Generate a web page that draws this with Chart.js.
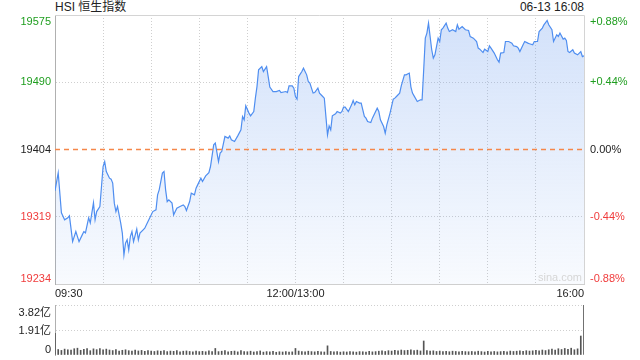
<!DOCTYPE html>
<html><head><meta charset="utf-8">
<script src="https://cdn.jsdelivr.net/npm/chart.js@4"></script>
<style>
html,body{margin:0;padding:0;background:#fff;width:640px;height:360px;overflow:hidden;}
#wrap{position:relative;width:640px;height:360px;}
.hdr{position:absolute;top:0;font-size:12px;line-height:15px;color:#222;font-family:"Liberation Sans",Arial,"Noto Sans CJK SC",sans-serif;white-space:nowrap;}
#title{left:55px;}
#date{right:56px;}
#c1{position:absolute;left:0;top:0;}
#c2{position:absolute;left:0;top:300px;}
</style>
</head><body>
<div id="wrap">
<div class="hdr" id="title"></div>
<div class="hdr" id="date"></div>
<canvas id="c1" width="640" height="300"></canvas>
<canvas id="c2" width="640" height="60"></canvas>
</div>
<script>
const titleText = 'HSI 恒生指数';
const dateText = '06-13 16:08';
const prevClose = 19404.4;
const pctLimit = 0.88;
const yTickLabels = ['19575','19490','19404','19319','19234'];
const pctTickLabels = ['+0.88%','+0.44%','0.00%','-0.44%','-0.88%'];
const xTickMinutes = [0,150,330];
const xTickLabels = ['09:30','12:00/13:00','16:00'];
const volTickLabels = ['3.82亿','1.91亿','0'];
const volMax = 3.82;

// minutes since open (lunch break removed: 150 = 12:00/13:00)
const minutes = [0,2,4,6,8,9,11,13,15,17,18,19,21,22,24,25,26,28,29,30,31,32,34,35,36,37,38,39,41,42,43,44,45,46,47,48,49,51,52,53,55,56,58,59,61,63,64,65,67,68,69,70,71,73,74,76,78,80,81,82,84,85,87,88,89,91,92,94,96,97,99,100,102,103,104,106,108,109,110,112,114,116,117,118,119,121,122,124,125,126,127,129,130,132,133,134,136,138,140,141,144,145,146,148,149,150,151,152,154,155,157,158,159,161,162,164,165,167,168,170,171,172,173,175,176,178,179,180,181,183,185,186,187,188,190,191,193,194,195,197,198,201,202,203,205,206,207,209,211,212,213,215,216,218,219,221,222,223,224,226,228,229,230,231,232,233,234,235,236,237,239,240,241,242,244,245,246,248,250,251,252,254,256,258,259,261,263,264,265,267,268,270,271,272,274,276,277,278,280,281,283,285,286,288,289,290,292,293,295,296,298,299,301,302,304,305,307,308,310,311,313,314,315,317,318,319,320,321,323,324,326,328,329,330];
const prices = [19352,19374.8,19324.0,19315.1,19317.6,19320.2,19287.5,19300.2,19287.5,19296.0,19300.2,19298.6,19317.6,19311.3,19336.7,19315.1,19325.6,19332.0,19357.4,19382.8,19389.1,19376.4,19368.0,19366.8,19361.7,19336.3,19325.6,19332.0,19310.9,19298.2,19270.6,19285.5,19289.7,19277.0,19293.9,19300.2,19287.5,19303.3,19289.7,19298.2,19302.4,19304.5,19312.9,19317.2,19325.6,19327.8,19346.8,19353.2,19374.4,19376.4,19353.2,19338.3,19340.5,19336.3,19321.4,19329.9,19332.0,19334.1,19332.0,19326.9,19338.3,19349.0,19346.8,19355.3,19359.5,19368.0,19363.7,19370.9,19375.1,19382.8,19410.3,19412.5,19389.1,19399.8,19401.8,19420.9,19418.8,19421.7,19416.7,19414.5,19421.7,19429.4,19446.3,19442.1,19459.8,19450.6,19447.1,19452.6,19469.6,19484.3,19505.6,19509.7,19503.4,19509.7,19497.0,19483.6,19478.0,19478.0,19479.3,19476.7,19478.0,19476.7,19485.2,19485.2,19482.3,19471.7,19468.3,19497.0,19503.4,19507.7,19499.2,19490.7,19488.7,19476.0,19476.7,19482.3,19476.0,19471.7,19469.6,19423.0,19434.4,19429.4,19447.1,19449.7,19452.6,19450.6,19452.6,19458.2,19458.2,19452.6,19461.1,19466.6,19461.1,19465.3,19463.3,19463.3,19446.3,19444.2,19439.9,19438.6,19444.2,19456.9,19452.6,19442.1,19433.6,19425.2,19435.7,19450.6,19468.3,19469.6,19471.7,19476.0,19485.2,19499.2,19499.2,19501.4,19484,19476,19472.5,19465.3,19467.5,19467.5,19505.6,19545.8,19552.2,19564.9,19547.8,19531.0,19520.4,19524.6,19545.8,19541.5,19556.4,19558.5,19564.9,19558.5,19554.2,19556.4,19554.2,19562.7,19557.2,19560.5,19556.4,19555.5,19547.8,19545.8,19541.5,19533.1,19531.8,19527.5,19531.8,19528.8,19536.0,19533.1,19526.8,19518.3,19515.3,19526.8,19527.5,19541.5,19541.5,19539.5,19536.0,19535.1,19533.1,19528.8,19537.3,19541.5,19539.5,19538.6,19537.3,19541.5,19541.5,19554.2,19558.5,19562.7,19568.2,19562.7,19556.4,19541.5,19550.0,19547.8,19552.2,19544.5,19545.8,19542.8,19528.8,19527.5,19531.0,19526.8,19524.6,19528.8,19522.4,19523.3];

// volume (亿) every 2 minutes from 0 to 330
const volMinuteStep = 2;
const volumes = [
1.66,0.42,0.35,0.45,0.40,0.38,0.48,0.52,0.36,0.44,
0.50,0.33,0.47,0.41,0.49,0.39,0.45,0.38,0.34,0.42,
0.30,0.36,0.40,0.33,0.29,0.37,0.31,0.35,0.28,0.33,
0.30,0.27,0.32,0.29,0.34,0.26,0.30,0.28,0.33,0.25,
0.29,0.31,0.27,0.24,0.30,0.26,0.28,0.25,0.31,0.27,
0.50,0.26,0.29,0.33,0.25,0.28,0.30,0.24,0.34,0.27,
0.25,0.29,0.23,0.27,0.31,0.22,0.26,0.24,0.28,0.21,
0.25,0.23,0.27,0.22,0.24,0.50,0.30,0.27,0.25,0.29,
0.26,0.24,0.28,0.25,0.23,0.70,0.27,0.24,0.26,0.22,
0.25,0.23,0.27,0.24,0.22,0.26,0.25,0.23,0.28,0.24,
0.26,0.29,0.31,0.27,0.33,0.30,0.35,0.32,0.38,0.34,
0.36,0.40,0.33,0.37,0.31,1.07,0.34,0.29,0.32,0.27,
0.30,0.26,0.28,0.25,0.29,0.27,0.24,0.28,0.26,0.25,
0.27,0.24,0.29,0.26,0.23,0.28,0.25,0.27,0.24,0.26,
0.28,0.25,0.30,0.27,0.29,0.31,0.28,0.33,0.30,0.32,
0.35,0.31,0.38,0.34,0.40,0.45,0.38,0.48,0.42,0.50,
0.44,0.52,0.40,0.47,1.45,3.82];

document.getElementById('title').textContent = titleText;
document.getElementById('date').textContent = dateText;

const FONT = '"Liberation Sans", Arial, "Noto Sans CJK SC", sans-serif';
const GREEN = '#1f9e1f', RED = '#f03c3c', DARK = '#222';
const yMax = prevClose * (1 + pctLimit / 100);
const yMin = prevClose * (1 - pctLimit / 100);
const yTickValues = [yMax, prevClose * (1 + pctLimit / 200), prevClose, prevClose * (1 - pctLimit / 200), yMin];
const xMax = xTickMinutes[xTickMinutes.length - 1];
const gridMinutes = [];
for (let m = 0; m <= xMax; m += 30) gridMinutes.push(m);

const mainLabels = {
  id: 'mainLabels',
  afterDraw(chart) {
    const {ctx, chartArea: a, scales: {y}} = chart;
    ctx.save();
    ctx.font = '11px ' + FONT;
    yTickValues.forEach((v, i) => {
      const py = y.getPixelForValue(v);
      ctx.textBaseline = i === 0 ? 'top' : (i === yTickValues.length - 1 ? 'bottom' : 'middle');
      const dy = i === 0 ? 1 : 0;
      ctx.fillStyle = i < 2 ? GREEN : (i === 2 ? DARK : RED);
      ctx.textAlign = 'right';
      ctx.fillText(yTickLabels[i], a.left - 4, py + dy);
      ctx.textAlign = 'left';
      ctx.fillText(pctTickLabels[i], a.right + 6, py + dy);
    });
    ctx.fillStyle = '#d6d6d6';
    ctx.textAlign = 'right';
    ctx.textBaseline = 'bottom';
    ctx.fillText('sina.com', a.right - 2, a.bottom - 1);
    ctx.restore();
  },
  beforeDatasetsDraw(chart) {
    const {ctx, chartArea: a} = chart;
    ctx.save();
    ctx.strokeStyle = '#d4d4d4';
    ctx.lineWidth = 1;
    ctx.beginPath();
    ctx.moveTo(a.left, a.top + 0.5); ctx.lineTo(a.right + 0.5, a.top + 0.5);
    ctx.lineTo(a.right + 0.5, a.bottom);
    ctx.stroke();
    ctx.restore();
  }
};

new Chart(document.getElementById('c1'), {
  type: 'line',
  data: {
    datasets: [
      {
        data: minutes.map((m, i) => ({x: m, y: prices[i]})),
        borderColor: '#4f8ef0',
        borderWidth: 1.2,
        pointRadius: 0,
        tension: 0,
        fill: 'start',
        order: 1,
        backgroundColor: (c) => {
          const a = c.chart.chartArea;
          if (!a) return 'rgba(120,165,240,0.2)';
          const g = c.chart.ctx.createLinearGradient(0, a.top, 0, a.bottom);
          g.addColorStop(0, 'rgba(120,165,240,0.33)');
          g.addColorStop(1, 'rgba(120,165,240,0.05)');
          return g;
        }
      },
      {
        data: [{x: 0, y: prevClose}, {x: xMax, y: prevClose}],
        borderColor: '#f5874a',
        borderWidth: 1.3,
        borderDash: [5, 4],
        pointRadius: 0,
        fill: false,
        order: 0
      }
    ]
  },
  options: {
    responsive: false,
    animation: false,
    events: [],
    layout: {padding: {left: 55, right: 56, top: 15, bottom: 0}},
    plugins: {legend: {display: false}, tooltip: {enabled: false}},
    scales: {
      x: {
        type: 'linear', min: 0, max: xMax,
        afterBuildTicks: (s) => { s.ticks = gridMinutes.map(v => ({value: v})); },
        afterFit: (s) => { s.height = 16; },
        ticks: {
          autoSkip: false, maxRotation: 0, align: 'inner', padding: 3,
          color: DARK, font: {size: 11, family: FONT},
          callback: (v) => { const k = xTickMinutes.indexOf(v); return k >= 0 ? xTickLabels[k] : ''; }
        },
        grid: {
          drawTicks: false, lineWidth: 1,
          color: (c) => (c.tick && (c.tick.value === 0 || c.tick.value === xMax)) ? 'rgba(0,0,0,0)' : '#cfcfcf'
        },
        border: {display: true, color: '#cfcfcf', dash: [1, 2]}
      },
      y: {
        type: 'linear', min: yMin, max: yMax,
        afterBuildTicks: (s) => { s.ticks = yTickValues.map(v => ({value: v})); },
        afterFit: (s) => { s.width = 0; },
        ticks: {display: false},
        grid: {
          drawTicks: false, lineWidth: 1,
          color: (c) => (c.index === 1 || c.index === 3) ? '#cfcfcf' : 'rgba(0,0,0,0)'
        },
        border: {display: true, color: '#b0b0b0', dash: [1, 2]}
      }
    }
  },
  plugins: [mainLabels]
});

const volLabels = {
  id: 'volLabels',
  afterDraw(chart) {
    const {ctx, chartArea: a, scales: {y}} = chart;
    const vals = [volMax, volMax / 2, 0];
    ctx.save();
    ctx.font = '11px ' + FONT;
    ctx.fillStyle = DARK;
    ctx.textAlign = 'right';
    vals.forEach((v, i) => {
      ctx.textBaseline = i === 0 ? 'top' : (i === 2 ? 'bottom' : 'middle');
      ctx.fillText(volTickLabels[i], a.left - 4, y.getPixelForValue(v) + (i === 0 ? 2 : (i === 1 ? 1 : 0)));
    });
    ctx.restore();
  }
};

new Chart(document.getElementById('c2'), {
  type: 'bar',
  data: {
    datasets: [{
      data: volumes.map((v, i) => ({x: i * volMinuteStep, y: v})),
      backgroundColor: '#555',
      barThickness: 1,
      borderWidth: 0
    }]
  },
  options: {
    responsive: false,
    animation: false,
    events: [],
    layout: {padding: {left: 55, right: 56, top: 5, bottom: 5}},
    plugins: {legend: {display: false}, tooltip: {enabled: false}},
    scales: {
      x: {type: 'linear', min: 0, max: xMax, display: false, offset: false},
      y: {
        type: 'linear', min: 0, max: volMax,
        afterBuildTicks: (s) => { s.ticks = [0, volMax / 2, volMax].map(v => ({value: v})); },
        afterFit: (s) => { s.width = 0; },
        ticks: {display: false},
        grid: {
          drawTicks: false, lineWidth: 1,
          color: (c) => c.index === 0 ? 'rgba(0,0,0,0)' : '#cfcfcf'
        },
        border: {display: true, color: '#b0b0b0', dash: [1, 2]}
      }
    }
  },
  plugins: [volLabels]
});
</script>
</body></html>
